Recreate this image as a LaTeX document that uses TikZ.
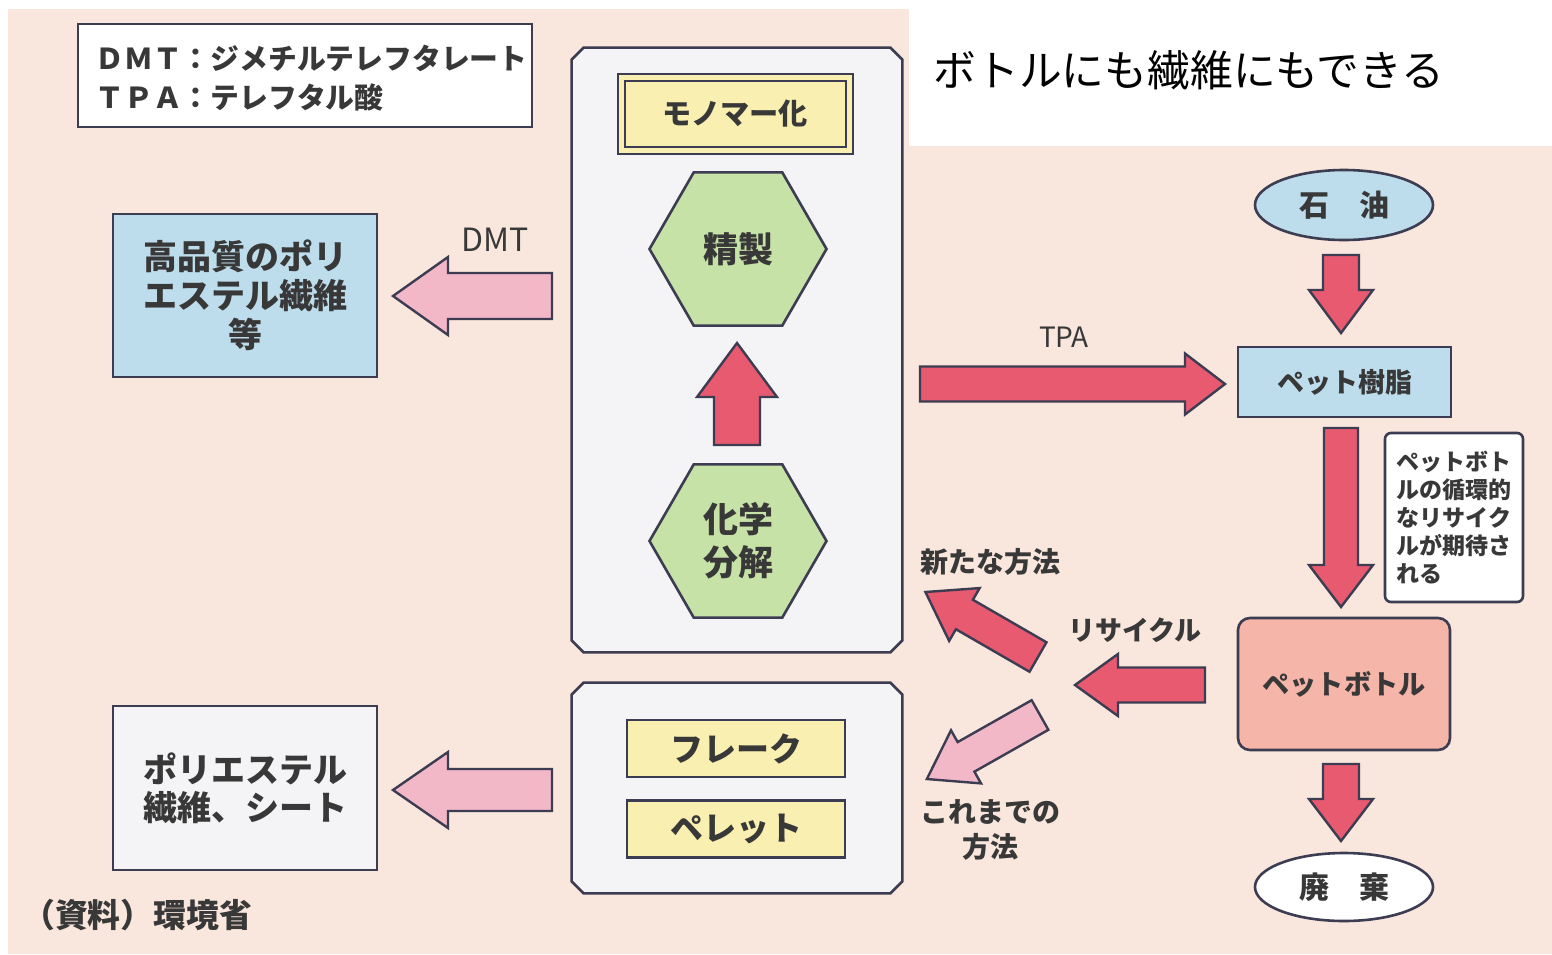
\documentclass[tikz,border=0pt]{standalone}
\usepackage{fontspec}
\setmainfont{Noto Sans CJK JP}
\usetikzlibrary{shapes.geometric}
\definecolor{peach}{HTML}{F9E6DC}
\definecolor{edge}{HTML}{3C3C52}
\definecolor{ink}{HTML}{383838}
\definecolor{lblue}{HTML}{BEDDEC}
\definecolor{pale}{HTML}{F4F4F6}
\definecolor{yel}{HTML}{F8EFB0}
\definecolor{grn}{HTML}{C6E2A6}
\definecolor{arrred}{HTML}{E85A70}
\definecolor{arrpink}{HTML}{F2B8C8}
\definecolor{salmon}{HTML}{F5B5A8}
\newcommand{\fsz}[1]{\fontsize{#1}{1.2\dimexpr #1\relax}\selectfont}
\begin{document}
\begin{tikzpicture}[x=0.5pt,y=-0.5pt,
  box/.style={draw=edge, line width=1.3pt, inner sep=0pt, text=ink, align=center},
  lbl/.style={text=ink, inner sep=0pt, align=center},
  redarr/.style={draw=edge, line width=1.2pt, fill=arrred},
  pinkarr/.style={draw=edge, line width=1.2pt, fill=arrpink},
  chamf/.style={draw=edge, line width=1.3pt, fill=pale},
  pics/barrow/.style args={#1/#2/#3/#4}{code={
    \path[pic actions] (0,-#2) -- ({#1-#4},-#2) -- ({#1-#4},-#3) -- (#1,0) -- ({#1-#4},#3) -- ({#1-#4},#2) -- (0,#2) -- cycle;
  }}
]
\useasboundingbox (0,0) rectangle (1552,954);
\fill[white] (0,0) rectangle (1552,954);
\fill[peach] (8,9) rectangle (1552,954);
\fill[white] (909,0) rectangle (1552,146);

% title
\node[anchor=west, inner sep=0pt, font=\fsz{21.4pt}] (title) at (933,70) {ボトルにも繊維にもできる};

% legend
\node[box, fill=white, minimum width=227pt, minimum height=51.5pt] (legend) at (305,75.5) {};
\node[lbl, anchor=west, font=\bfseries\fsz{14.4pt}] (leg1) at (95,58) {ＤＭＴ：ジメチルテレフタレート};
\node[lbl, anchor=west, font=\bfseries\fsz{14.4pt}] (leg2) at (95,97) {ＴＰＡ：テレフタル酸};

% left boxes
\node[box, fill=lblue, minimum width=132pt, minimum height=81.5pt,
      font=\bfseries\fontsize{17pt}{19.5pt}\selectfont] (hq) at (245,295.5) {高品質のポリ\\エステル繊維\\等};
\node[box, fill=pale, minimum width=132pt, minimum height=82pt,
      font=\bfseries\fontsize{17pt}{19pt}\selectfont] (pe) at (245,788) {ポリエステル\\繊維、シート};
\node[lbl, anchor=west, font=\bfseries\fsz{16.4pt}] (src) at (22,915) {（資料）環境省};

% central boxes (chamfered corners)
\node[inner sep=0pt, minimum width=165pt, minimum height=302pt] (big1) at (737,350) {};
\draw[chamf] ([xshift=6pt]big1.north west) -- ([xshift=-6pt]big1.north east) -- ([yshift=-6pt]big1.north east)
  -- ([yshift=6pt]big1.south east) -- ([xshift=-6pt]big1.south east) -- ([xshift=6pt]big1.south west)
  -- ([yshift=6pt]big1.south west) -- ([yshift=-6pt]big1.north west) -- cycle;
\node[inner sep=0pt, minimum width=165pt, minimum height=105pt] (big2) at (737,788) {};
\draw[chamf] ([xshift=6pt]big2.north west) -- ([xshift=-6pt]big2.north east) -- ([yshift=-6pt]big2.north east)
  -- ([yshift=6pt]big2.south east) -- ([xshift=-6pt]big2.south east) -- ([xshift=6pt]big2.south west)
  -- ([yshift=6pt]big2.south west) -- ([yshift=-6pt]big2.north west) -- cycle;
\node[box, line width=1pt, fill=yel, double=yel, double distance=2.5pt, minimum width=114pt, minimum height=36.5pt,
      font=\bfseries\fsz{14.6pt}] (mono) at (735,113.5) {モノマー化};
\node[box, fill=grn, regular polygon, regular polygon sides=6, minimum size=88.5pt,
      font=\bfseries\fsz{17.5pt}] (seisei) at (738,249) {精製};
\node[box, fill=grn, regular polygon, regular polygon sides=6, minimum size=88.5pt,
      font=\bfseries\fontsize{17.5pt}{21.5pt}\selectfont] (bunkai) at (738,541) {化学\\分解};
\node[box, fill=yel, minimum width=109pt, minimum height=28.5pt, font=\bfseries\fsz{16.5pt}] (flake) at (736,748.5) {フレーク};
\node[box, fill=yel, minimum width=109pt, minimum height=28.5pt, font=\bfseries\fsz{16.5pt}] (pellet) at (736,829) {ペレット};

% right column
\node[box, fill=lblue, ellipse, minimum width=89pt, minimum height=35pt, font=\bfseries\fsz{15pt}] (oil) at (1344,205) {石　油};
\node[box, fill=lblue, minimum width=106.5pt, minimum height=35pt, font=\bfseries\fsz{13.5pt}] (resin) at (1344.5,382) {ペット樹脂};
\node[box, fill=white, rounded corners=3pt, minimum width=69pt, minimum height=84.5pt, align=left,
      font=\bfseries\fontsize{11.5pt}{14pt}\selectfont] (note) at (1454,517.5) {ペットボト\\ルの循環的\\なリサイク\\ルが期待さ\\れる};
\node[box, fill=salmon, rounded corners=6pt, minimum width=106pt, minimum height=66pt, font=\bfseries\fsz{13.6pt}] (bottle) at (1344,684) {ペットボトル};
\node[box, fill=white, ellipse, minimum width=89pt, minimum height=34pt, font=\bfseries\fsz{15pt}] (waste) at (1344,887) {廃　棄};

% labels
\node[lbl, font=\fsz{16pt}] (dmtl) at (495,240) {DMT};
\node[lbl, font=\fsz{14pt}] (tpal) at (1064,337) {TPA};
\node[lbl, font=\bfseries\fsz{13.5pt}] (recl) at (1135,630) {リサイクル};
\node[lbl, font=\bfseries\fsz{14pt}] (newl) at (990,562) {新たな方法};
\node[lbl, font=\bfseries\fontsize{14pt}{17.5pt}\selectfont] (oldl) at (990,830) {これまでの\\方法};

% block arrows
\pic[pinkarr, rotate=180] at (552,296) {barrow=159/23/39/55};
\pic[pinkarr, rotate=180] at (552,790) {barrow=159/21/38/55};
\pic[redarr, rotate=90] at (737,445) {barrow=102/23/40/54};
\pic[redarr] at (920,384) {barrow=305/17.5/30.5/40};
\pic[redarr, rotate=-90] at (1341,255) {barrow=78/18/32/43};
\pic[redarr, rotate=-90] at (1341,428) {barrow=179/17/32/42};
\pic[redarr, rotate=-90] at (1341,764) {barrow=77/18/32/42};
\pic[redarr, rotate=180] at (1205,685) {barrow=130/17.5/31/43};
\pic[redarr, rotate=150] at (1038,657) {barrow=130/17/30.5/45};
\pic[pinkarr, rotate=-150.5] at (1040,715) {barrow=130/17/30.5/45};
\end{tikzpicture}
\end{document}
